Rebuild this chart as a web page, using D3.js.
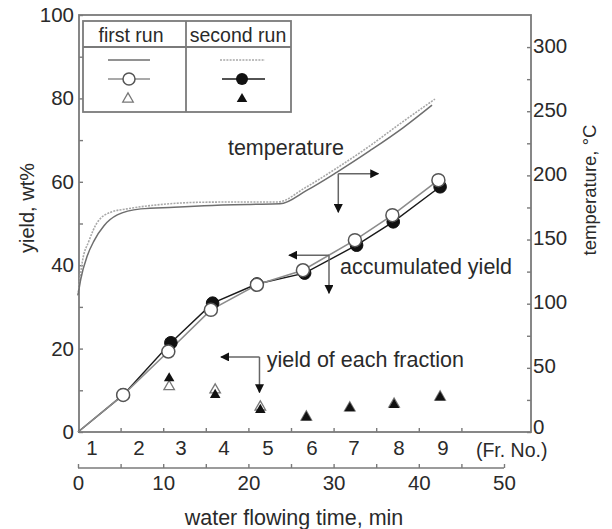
<!DOCTYPE html>
<html><head><meta charset="utf-8">
<script src="https://cdn.jsdelivr.net/npm/d3@7"></script>
<style>
html,body{margin:0;padding:0;background:#fff;}
text{font-family:"Liberation Sans",Arial,sans-serif;fill:#2a2a2a;}
</style></head>
<body>
<svg id="chart" width="612" height="529"></svg>
<script>
// ---------- data ----------
const accTime1  = [0, 5.3, 10.6, 15.6, 21.0, 26.4, 32.5, 36.9, 42.3];
const accYield1 = [0, 8.9, 19.3, 29.3, 35.3, 38.8, 46.0, 52.0, 60.4];
const accTime2  = [0, 5.3, 10.9, 15.8, 21.0, 26.6, 32.7, 37.0, 42.5];
const accYield2 = [0, 8.9, 21.4, 30.9, 35.5, 38.1, 44.8, 50.4, 58.8];

const fracTime   = [10.7, 16.1, 21.4, 26.8, 31.9, 37.1, 42.5];
const fracYield1 = [10.9, 10.1, 6.0, 3.6, 5.8, 6.7, 8.4];
const fracYield2 = [12.9, 8.9, 5.3, 3.5, 5.7, 6.5, 8.3];

const tempTime1 = [0, 0.32, 1.09, 1.88, 3.05, 4.61, 7.36, 11.27, 14.79, 20.19, 23.71, 26.84, 30.36, 34.27, 38.18, 41.55];
const temp1     = [106.5, 119, 137.3, 149, 160.8, 169.2, 173.9, 175.2, 176.4, 177.4, 177.8, 188.3, 202.4, 219.3, 237.3, 254.8];
const tempTime2 = [0, 0.5, 1.29, 2.27, 3.84, 5.75, 9.27, 14.79, 20.19, 23.47, 26.64, 30.16, 34.04, 37.91, 41.9];
const temp2     = [106.5, 132.4, 149, 163.4, 171.3, 173.9, 177, 179.1, 179.3, 179.3, 190.3, 204.8, 222, 240.8, 259.5];

const frLabels = ["1","2","3","4","5","6","7","8","9"];
const frPos    = [1.64, 7.16, 12.09, 17.14, 22.3, 27.46, 32.39, 37.68, 42.84];
const yieldTicks = [0, 20, 40, 60, 80, 100];
const tempTicks  = [0, 50, 100, 150, 200, 250, 300];
const timeTicks  = [0, 10, 20, 30, 40, 50];

// ---------- layout ----------
const svg = d3.select("#chart");
const L = 79, R = 531, T = 15, B = 432;
const x = d3.scaleLinear().domain([0, 50]).range([78, 504]);
const y = d3.scaleLinear().domain([0, 100]).range([B, T]);
const yT = d3.scaleLinear().domain([0, 325]).range([B, T]);
const axisCol = "#7a7a7a";
const FS = 20.5;   // tick labels
const FA = 21.5;   // annotations / titles

function styleAxis(g){
  g.select(".domain").remove();
  g.selectAll("line").attr("stroke", axisCol).attr("stroke-width", 1.4);
  g.selectAll("text").style("font-size", FS + "px").attr("fill", "#2a2a2a");
}

// left axis
svg.append("g").attr("transform", `translate(${L},0)`)
  .call(d3.axisLeft(y).tickValues(d3.range(0, 101, 10)).tickSize(-4).tickPadding(5)
    .tickFormat(d => yieldTicks.includes(d) ? d : ""))
  .call(styleAxis);
// right axis
const gr = svg.append("g").attr("transform", `translate(${R},0)`)
  .call(d3.axisRight(yT).tickValues(d3.range(0, 301, 25)).tickSize(-4).tickPadding(2)
    .tickFormat(d => tempTicks.includes(d) ? d : ""))
  .call(styleAxis);
gr.selectAll("text").attr("dy", d => d === 0 ? "0.05em" : "0.25em");
// bottom frame inner ticks
svg.append("g").attr("transform", `translate(0,${B})`)
  .call(d3.axisBottom(x).tickValues(d3.range(5, 46, 5)).tickSize(-4).tickFormat(""))
  .call(styleAxis);
// frame
svg.append("rect").attr("x", L).attr("y", T).attr("width", R - L).attr("height", B - T)
  .attr("fill", "none").attr("stroke", axisCol).attr("stroke-width", 1.8);

// time axis (lower)
svg.append("g").attr("transform", `translate(0,468)`)
  .call(d3.axisBottom(x).tickValues(d3.range(0, 51, 5)).tickSize(-4).tickPadding(7)
    .tickFormat(d => timeTicks.includes(d) ? d : ""))
  .call(styleAxis);
svg.append("line").attr("x1", x(0)).attr("x2", x(50)).attr("y1", 468).attr("y2", 468)
  .attr("stroke", axisCol).attr("stroke-width", 1.6);

// Fraction labels
svg.append("g").selectAll("text").data(frLabels).join("text")
  .attr("x", (d, i) => x(frPos[i])).attr("y", 448).attr("dy", "0.35em")
  .attr("text-anchor", "middle").style("font-size", FS + "px").text(d => d);
svg.append("text").attr("x", x(50.9)).attr("y", 450).attr("dy", "0.35em")
  .attr("text-anchor", "middle").style("font-size", "19.5px").text("(Fr. No.)");

// axis titles
svg.append("text").attr("x", 294).attr("y", 517).attr("dy", "0.35em").attr("text-anchor", "middle")
  .style("font-size", FA + "px").text("water flowing time, min");
svg.append("text").attr("transform", "translate(27,208) rotate(-90)").attr("dy", "0.35em")
  .attr("text-anchor", "middle").style("font-size", "20px").text("yield, wt%");
svg.append("text").attr("transform", "translate(590,190) rotate(-90)").attr("dy", "0.35em")
  .attr("text-anchor", "middle").style("font-size", "18.5px").text("temperature, °C");

// ---------- temperature curves ----------
const tLine = d3.line().x(d => x(d[0])).y(d => yT(d[1])).curve(d3.curveMonotoneX);
svg.append("path").datum(tempTime2.map((t, i) => [t, temp2[i]])).attr("d", tLine)
  .attr("fill", "none").attr("stroke", "#a8a8a8").attr("stroke-width", 1.6).attr("stroke-dasharray", "2,1.2");
svg.append("path").datum(tempTime1.map((t, i) => [t, temp1[i]])).attr("d", tLine)
  .attr("fill", "none").attr("stroke", "#6e6e6e").attr("stroke-width", 1.5);

// ---------- accumulated yield ----------
const yLine = d3.line().x(d => x(d[0])).y(d => y(d[1]));
const acc2 = accTime2.map((t, i) => [t, accYield2[i]]);
const acc1 = accTime1.map((t, i) => [t, accYield1[i]]);
svg.append("path").datum(acc2).attr("d", yLine).attr("fill", "none").attr("stroke", "#1a1a1a").attr("stroke-width", 1.4);
svg.append("path").datum(acc1).attr("d", yLine).attr("fill", "none").attr("stroke", "#8c8c8c").attr("stroke-width", 1.6);
svg.append("g").selectAll("circle").data(acc2.slice(1)).join("circle")
  .attr("cx", d => x(d[0])).attr("cy", d => y(d[1])).attr("r", 6.3)
  .attr("fill", "#111").attr("stroke", "#111").attr("stroke-width", 1);
svg.append("g").selectAll("circle").data(acc1.slice(1)).join("circle")
  .attr("cx", d => x(d[0])).attr("cy", d => y(d[1])).attr("r", 6.5)
  .attr("fill", "#fff").attr("stroke", "#555").attr("stroke-width", 1.5);

// ---------- yield of each fraction ----------
const tri = d3.symbol(d3.symbolTriangle).size(48);
svg.append("g").selectAll("path").data(fracTime.map((t, i) => [t, fracYield1[i]])).join("path")
  .attr("d", tri).attr("transform", d => `translate(${x(d[0])},${y(d[1])})`)
  .attr("fill", "#fff").attr("stroke", "#777").attr("stroke-width", 1.3);
svg.append("g").selectAll("path").data(fracTime.map((t, i) => [t, fracYield2[i]])).join("path")
  .attr("d", tri).attr("transform", d => `translate(${x(d[0])},${y(d[1])})`)
  .attr("fill", "#111");

// ---------- annotations ----------
const defs = svg.append("defs");
defs.append("marker").attr("id", "ah").attr("viewBox", "0 0 10 10").attr("refX", 9).attr("refY", 5)
  .attr("markerWidth", 9).attr("markerHeight", 9).attr("markerUnits", "userSpaceOnUse").attr("orient", "auto")
  .append("path").attr("d", "M0,0 L10,5 L0,10 Z").attr("fill", "#111");
function arrow(x1, y1, x2, y2){
  svg.append("line").attr("x1", x1).attr("y1", y1).attr("x2", x2).attr("y2", y2)
    .attr("stroke", "#666").attr("stroke-width", 1.5).attr("marker-end", "url(#ah)");
}
// temperature
arrow(x(30.55), yT(201.3), x(35.25), yT(201.3));
arrow(x(30.55), yT(201.3), x(30.55), yT(171.3));
svg.append("text").attr("x", x(17.6)).attr("y", y(68.3)).attr("dy", "0.35em")
  .style("font-size", FA + "px").text("temperature");
// accumulated yield
arrow(x(29.46), y(42.4), x(24.77), y(42.4));
arrow(x(29.46), y(42.4), x(29.46), y(33.3));
svg.append("text").attr("x", x(30.75)).attr("y", y(39.6)).attr("dy", "0.35em")
  .style("font-size", FA + "px").text("accumulated yield");
// fraction
arrow(x(21.3), y(18.0), x(16.78), y(18.0));
arrow(x(21.3), y(18.0), x(21.3), y(9.5));
svg.append("text").attr("x", x(22.15)).attr("y", y(17.3)).attr("dy", "0.35em")
  .style("font-size", FA + "px").text("yield of each fraction");

// ---------- legend ----------
const lg = svg.append("g");
const lx0 = 83, lx1 = 186, lx2 = 291, ly0 = 21, ly1 = 47, ly2 = 112;
lg.append("rect").attr("x", lx0).attr("y", ly0).attr("width", lx2 - lx0).attr("height", ly2 - ly0)
  .attr("fill", "#fff").attr("stroke", axisCol).attr("stroke-width", 1.8);
lg.append("line").attr("x1", lx1).attr("x2", lx1).attr("y1", ly0).attr("y2", ly2).attr("stroke", axisCol).attr("stroke-width", 1.8);
lg.append("line").attr("x1", lx0).attr("x2", lx2).attr("y1", ly1).attr("y2", ly1).attr("stroke", axisCol).attr("stroke-width", 1.8);
lg.append("text").attr("x", 131).attr("y", 35).attr("dy", "0.35em").attr("text-anchor", "middle")
  .style("font-size", "19.5px").text("first run");
lg.append("text").attr("x", 238).attr("y", 35).attr("dy", "0.35em").attr("text-anchor", "middle")
  .style("font-size", "19.5px").text("second run");
lg.append("line").attr("x1", 108).attr("x2", 150).attr("y1", 60).attr("y2", 60).attr("stroke", "#6e6e6e").attr("stroke-width", 1.5);
lg.append("line").attr("x1", 220).attr("x2", 265).attr("y1", 60).attr("y2", 60).attr("stroke", "#a8a8a8").attr("stroke-width", 1.6).attr("stroke-dasharray", "2,1.2");
lg.append("line").attr("x1", 108).attr("x2", 150).attr("y1", 79).attr("y2", 79).attr("stroke", "#8c8c8c").attr("stroke-width", 1.6);
lg.append("circle").attr("cx", 129).attr("cy", 79).attr("r", 6).attr("fill", "#fff").attr("stroke", "#555").attr("stroke-width", 1.5);
lg.append("line").attr("x1", 222).attr("x2", 265).attr("y1", 79).attr("y2", 79).attr("stroke", "#1a1a1a").attr("stroke-width", 1.4);
lg.append("circle").attr("cx", 242).attr("cy", 79).attr("r", 6).attr("fill", "#111");
lg.append("path").attr("d", tri).attr("transform", "translate(128,99)").attr("fill", "#fff").attr("stroke", "#777").attr("stroke-width", 1.3);
lg.append("path").attr("d", tri).attr("transform", "translate(242,99)").attr("fill", "#111");
</script>
</body></html>
